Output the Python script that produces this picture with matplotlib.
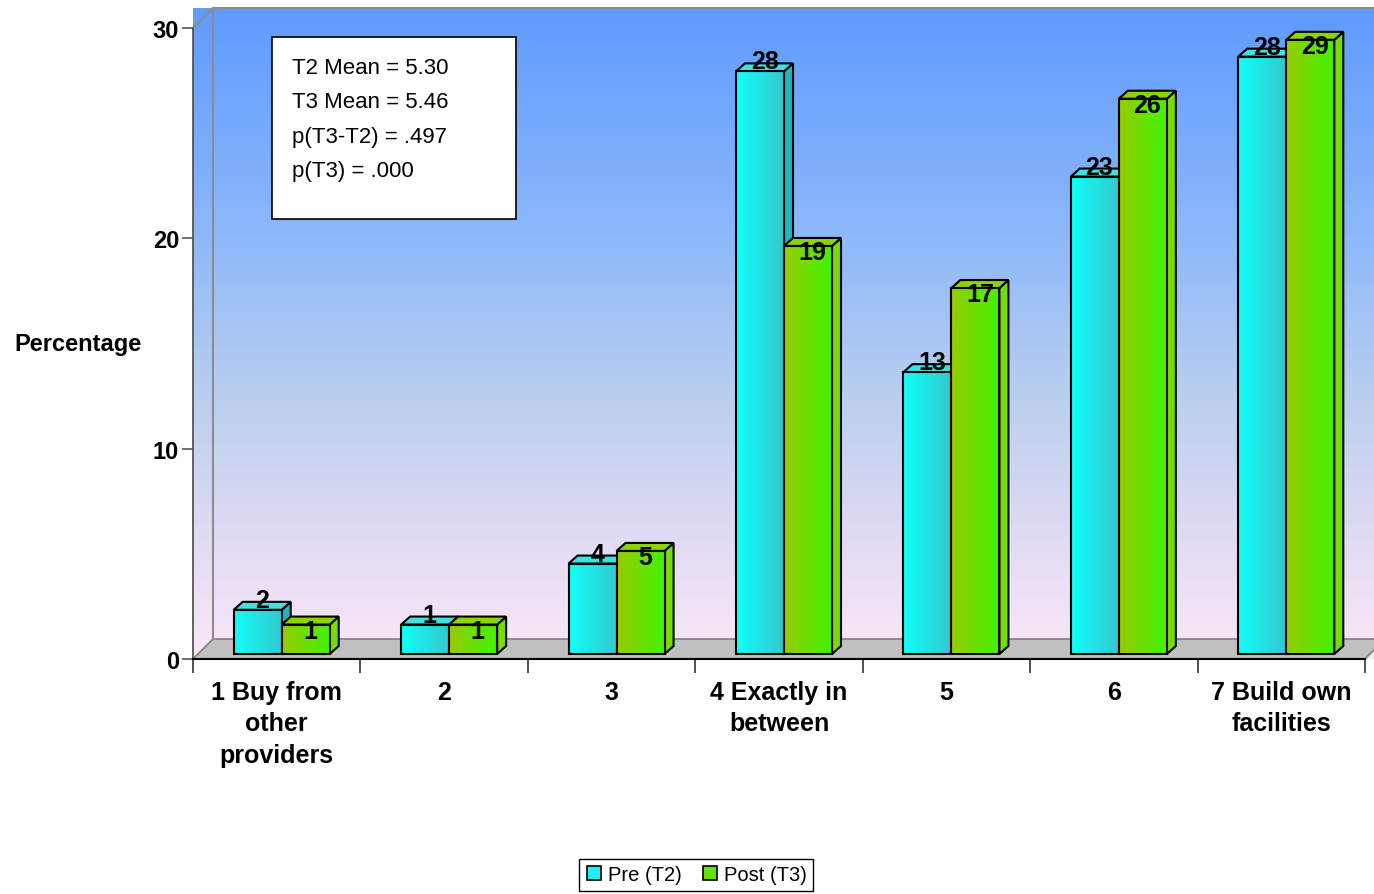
import numpy as np
import matplotlib.pyplot as plt
from matplotlib.patches import Polygon, Rectangle
from matplotlib.colors import LinearSegmentedColormap
from matplotlib.lines import Line2D

plt.rcParams['font.family'] = ['Liberation Sans', 'DejaVu Sans']

categories = ["1 Buy from\nother\nproviders", "2", "3", "4 Exactly in\nbetween",
              "5", "6", "7 Build own\nfacilities"]
pre_t2 = [2.1, 1.4, 4.3, 27.7, 13.4, 22.7, 28.4]
post_t3 = [1.4, 1.4, 4.9, 19.4, 17.4, 26.4, 29.2]
series_names = ["Pre (T2)", "Post (T3)"]
y_ticks = [0, 10, 20, 30]
stats_lines = ["T2 Mean = 5.30", "T3 Mean = 5.46", "p(T3-T2) = .497", "p(T3) = .000"]

W, H = 1374, 895
fig = plt.figure(figsize=(W / 100, H / 100), dpi=100)

# front plane of the plot box, in figure pixels
left_px, right_px, zero_px, top_px = 193, 1365, 660, 29
ax = fig.add_axes([left_px / W, 1 - zero_px / H,
                   (right_px - left_px) / W, (zero_px - top_px) / H])
n = len(categories)
ymax = 30
ux = (right_px - left_px) / n      # pixels per category
uy = (zero_px - top_px) / ymax     # pixels per percent


def px(dxp, dyp):
    return dxp / ux, dyp / uy


# walls with vertical gradient
wdx, wdy = px(20, 20)
wall_cmap = LinearSegmentedColormap.from_list(
    "wall", [(0.0, "#5f9bff"), (0.35, "#8db8fa"), (0.6, "#bacfee"),
             (0.85, "#e6ddf4"), (1.0, "#fae8f8")])
grad = np.linspace(0, 1, 256).reshape(-1, 1)
wall = ax.imshow(grad, cmap=wall_cmap, aspect="auto", origin="upper",
                 extent=[0, n + wdx, 0, ymax + wdy], zorder=0, clip_on=False)
wall_outline = Polygon([(0, 0), (0, ymax), (wdx, ymax + wdy), (n + wdx, ymax + wdy),
                        (n + wdx, wdy), (n, 0)], closed=True, transform=ax.transData)
wall.set_clip_path(wall_outline)

floor = Polygon([(0, 0), (wdx, wdy), (n + wdx, wdy), (n, 0)], closed=True,
                facecolor="#c0c0c0", edgecolor="#808080", lw=1.2, zorder=1, clip_on=False)
ax.add_patch(floor)
for xs, ys in [([0, wdx], [ymax, ymax + wdy]), ([wdx, wdx], [wdy, ymax + wdy]),
               ([wdx, n + wdx], [ymax + wdy, ymax + wdy])]:
    ax.plot(xs, ys, color="#8c8c8c", lw=1.5, zorder=1.5, clip_on=False)

# 3D bars
bar_w = 48 / ux
plane_dx, plane_dy = px(5, 5)
bdx, bdy = px(9, 8)
series = [
    (pre_t2, ("#10fff8", "#34c8d0"), "#3ee0e0", "#20b8c0", 10),
    (post_t3, ("#96cc00", "#40f400"), "#8cd400", "#78dc00", -6),
]
z = 2.0
for i in range(n):
    for s, (vals, (c0, c1), top_c, side_c, lab_off) in enumerate(series):
        v = vals[i]
        x0 = i + 0.5 - bar_w + s * bar_w + plane_dx
        x1 = x0 + bar_w
        y0 = plane_dy
        y1 = v + plane_dy
        side = Polygon([(x1, y0), (x1 + bdx, y0 + bdy), (x1 + bdx, y1 + bdy), (x1, y1)],
                       closed=True, facecolor=side_c, edgecolor="black", lw=1.5, zorder=z)
        top = Polygon([(x0, y1), (x0 + bdx, y1 + bdy), (x1 + bdx, y1 + bdy), (x1, y1)],
                      closed=True, facecolor=top_c, edgecolor="black", lw=1.5, zorder=z)
        ax.add_patch(side)
        ax.add_patch(top)
        cm = LinearSegmentedColormap.from_list("f%d" % s, [c0, c1])
        ax.imshow(np.linspace(0, 1, 64).reshape(1, -1), cmap=cm, aspect="auto",
                  extent=[x0, x1, y0, y1], zorder=z + 0.001, clip_on=False)
        ax.add_patch(Rectangle((x0, y0), bar_w, v, fill=False, edgecolor="black",
                               lw=1.5, zorder=z + 0.002, clip_on=False))
        z += 0.01
        ax.text((x0 + x1) / 2 + bdx / 2, y1 + lab_off / uy, f"{v:.0f}",
                ha="center", va="center", fontsize=18, fontweight="bold", zorder=10)

ax.set_xlim(0, n)
ax.set_ylim(0, ymax)

# axes, ticks and labels
for side in ["top", "right"]:
    ax.spines[side].set_visible(False)
ax.spines["left"].set_color("#555555")
ax.spines["left"].set_linewidth(1.3)
ax.spines["bottom"].set_color("black")
ax.spines["bottom"].set_linewidth(1.5)
ax.spines["left"].set_zorder(1.6)
ax.spines["bottom"].set_zorder(1.6)

ax.set_yticks(y_ticks)
ax.set_yticklabels([str(t) for t in y_ticks], fontsize=17, fontweight="bold")
ax.tick_params(axis="y", length=8, width=1.2, color="#555555", pad=2)
ax.set_xticks(np.arange(n + 1))
ax.set_xticklabels([])
ax.tick_params(axis="x", which="major", length=10, width=1.2, color="#333333")
ax.set_xticks(np.arange(n) + 0.5, minor=True)
ax.set_xticklabels(categories, minor=True, fontsize=18, fontweight="bold",
                   linespacing=1.4)
ax.tick_params(axis="x", which="minor", length=0, pad=15)

fig.text(78 / W, 1 - 345 / H, "Percentage", ha="center", va="center",
         fontsize=17, fontweight="bold")

# statistics box
box_l, box_t, box_r, box_b = 272, 38, 516, 220
fig.patches.append(Rectangle((box_l / W, 1 - box_b / H), (box_r - box_l) / W,
                             (box_b - box_t) / H, transform=fig.transFigure,
                             facecolor="white", edgecolor="black", lw=1.2, zorder=20))
for k, line in enumerate(stats_lines):
    fig.text(292 / W, 1 - (68 + 34.5 * k) / H, line, ha="left", va="center",
             fontsize=16, zorder=21)

handles = [Line2D([], [], marker="s", linestyle="none", markersize=10,
                  markerfacecolor=c, markeredgecolor="black", markeredgewidth=1.2)
           for c in ["#20f0f0", "#66e000"]]
leg = fig.legend(handles, series_names, loc="center", bbox_to_anchor=(696 / W, 1 - 876 / H),
                 ncol=2, fontsize=14.5, frameon=True, fancybox=False, handlelength=0.8,
                 handletextpad=0.3, columnspacing=1.0, borderpad=0.3,
                 edgecolor="black", framealpha=1)
leg.get_frame().set_linewidth(1.0)

fig.savefig("out.png", dpi=100)
